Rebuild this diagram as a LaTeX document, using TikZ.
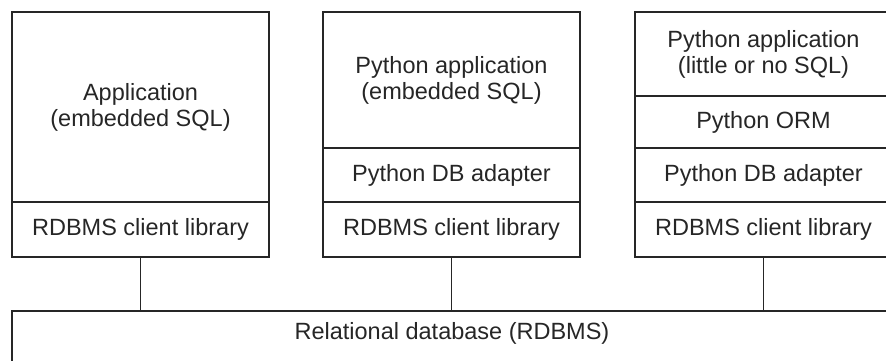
\documentclass[tikz,border=0pt]{standalone}
\usepackage{fontspec}
\setmainfont{Liberation Sans}
\usetikzlibrary{positioning}

\tikzset{
  layer/.style={draw=black!85, line width=1.1pt, minimum width=257pt, inner sep=0pt,
    outer sep=0pt, align=center, text=black!85, font=\fontsize{23.5}{26}\selectfont},
  wire/.style={draw=black!85, line width=1.1pt}
}

\begin{document}
\begin{tikzpicture}[x=1pt,y=-1pt,node distance=0pt]
\useasboundingbox (0,0) rectangle (886,360);
\clip (0,0) rectangle (886,360);
% C application
\node[layer, minimum height=190pt, anchor=north west] (capp) at (12,12) {Application\\(embedded SQL)};
\node[layer, minimum height=55pt, below=of capp] (cclient) {RDBMS client library};
% Python with embedded SQL
\node[layer, minimum height=136pt, anchor=north west] (pyapp) at (323,12) {Python application\\(embedded SQL)};
\node[layer, minimum height=54pt, below=of pyapp] (pyadapter) {Python DB adapter};
\node[layer, minimum height=55pt, below=of pyadapter] (pyclient) {RDBMS client library};
% Python with ORM
\node[layer, minimum height=84pt, anchor=north west] (ormapp) at (635,12) {Python application\\(little or no SQL)};
\node[layer, minimum height=52pt, below=of ormapp] (orm) {Python ORM};
\node[layer, minimum height=54pt, below=of orm] (ormadapter) {Python DB adapter};
\node[layer, minimum height=55pt, below=of ormadapter] (ormclient) {RDBMS client library};
% database
\node[layer, minimum width=880pt, minimum height=60pt, text height=17pt, text depth=20pt,
  anchor=north west] (rdbms) at (12,311) {Relational database (RDBMS)};
\draw[wire] (cclient.south) -- (cclient.south |- rdbms.north);
\draw[wire] (pyclient.south) -- (pyclient.south |- rdbms.north);
\draw[wire] (ormclient.south) -- (ormclient.south |- rdbms.north);
\end{tikzpicture}
\end{document}
